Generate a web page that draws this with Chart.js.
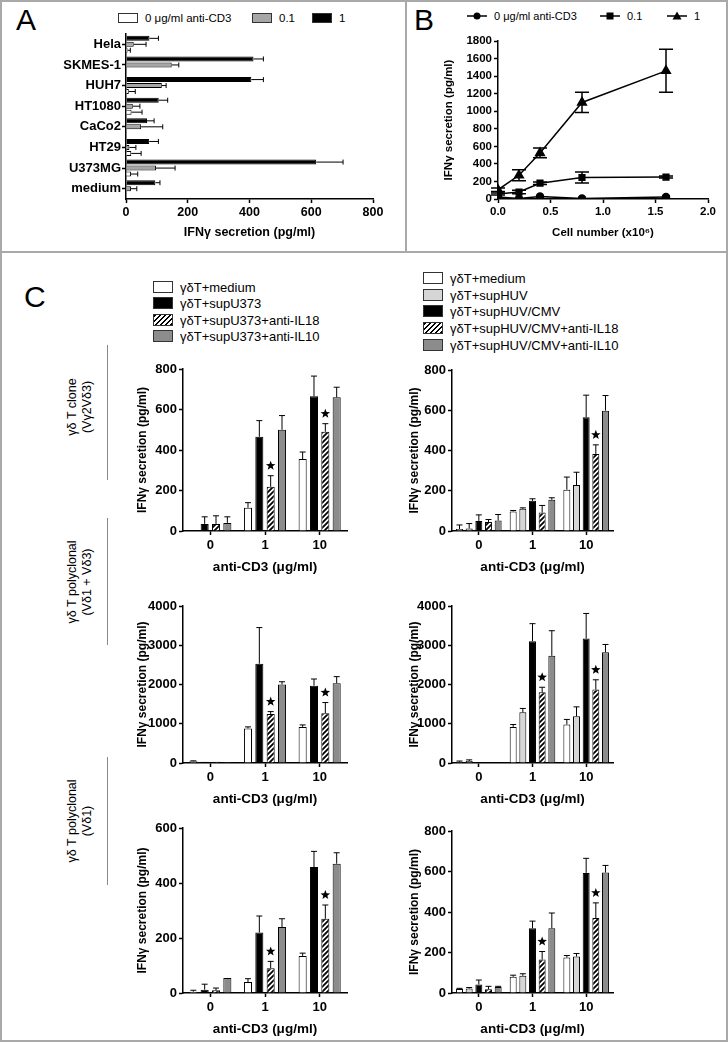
<!DOCTYPE html>
<html>
<head>
<meta charset="utf-8">
<title>IFN-gamma secretion</title>
<script src="https://cdn.jsdelivr.net/npm/chart.js@4.4.1/dist/chart.umd.min.js"></script>
<style>
  body { margin: 0; background: #fff; }
  #fig { position: relative; width: 728px; height: 1042px; overflow: hidden;
         font-family: "Liberation Sans", Arial, sans-serif; color: #000; }
  .frame { position: absolute; left: 0; top: 0; width: 728px; height: 1042px;
           box-sizing: border-box; border: 2px solid #a9a9a9; }
  .hline { position: absolute; left: 0; top: 251px; width: 728px; height: 2px; background: #a9a9a9; }
  .vline { position: absolute; left: 405px; top: 0; width: 2px; height: 252px; background: #a9a9a9; }
  canvas { position: absolute; }
  .letter { position: absolute; font-size: 30px; line-height: 30px; }
  .leg { position: absolute; height: 16px; display: flex; align-items: center; white-space: nowrap; }
  .leg span:last-child { margin-left: 7px; }
  .sw { display: inline-block; box-sizing: border-box; border: 1px solid #333; }
  .c .sw { width: 20px; height: 12px; }
  .c { font-size: 13px; }
  .hatch { background: repeating-linear-gradient(-45deg, #000 0 1.6px, #fff 1.6px 3.6px); }
  .side { position: absolute; width: 170px; height: 30px; font-size: 12.5px; line-height: 15px;
          text-align: center; transform: rotate(-90deg); }
  .rule { position: absolute; left: 107px; width: 1px; background: #888; }
</style>
</head>
<body>
<div id="fig">
  <div class="frame"></div>
  <div class="hline"></div>
  <div class="vline"></div>

  <div class="letter" style="left:16px;top:5px">A</div>
  <div class="letter" style="left:414px;top:5px">B</div>
  <div class="letter" style="left:24px;top:282px">C</div>

  <!-- legend A -->
  <div class="leg" style="left:118px;top:10px;font-size:11.5px"><span class="sw" style="width:20px;height:10px;background:#fff"></span><span>0 μg/ml anti-CD3</span></div>
  <div class="leg" style="left:252px;top:10px;font-size:11.5px"><span class="sw" style="width:20px;height:10px;background:#a6a6a6"></span><span>0.1</span></div>
  <div class="leg" style="left:312px;top:10px;font-size:11.5px"><span class="sw" style="width:20px;height:10px;background:#000"></span><span>1</span></div>

  <!-- legend B -->
  <div class="leg" style="left:467px;top:8px;font-size:11px"><svg width="20" height="10"><line x1="0" y1="5" x2="20" y2="5" stroke="#000" stroke-width="1.5"/><circle cx="10" cy="5" r="3.5" fill="#000"/></svg><span>0 μg/ml anti-CD3</span></div>
  <div class="leg" style="left:600px;top:8px;font-size:11px"><svg width="20" height="10"><line x1="0" y1="5" x2="20" y2="5" stroke="#000" stroke-width="1.5"/><rect x="6.5" y="1.5" width="7" height="7" fill="#000"/></svg><span>0.1</span></div>
  <div class="leg" style="left:667px;top:8px;font-size:11px"><svg width="20" height="10"><line x1="0" y1="5" x2="20" y2="5" stroke="#000" stroke-width="1.5"/><polygon points="10,0.5 14.5,8.5 5.5,8.5" fill="#000"/></svg><span>1</span></div>

  <!-- legend C left -->
  <div class="leg c" style="left:153px;top:279px"><span class="sw" style="background:#fff"></span><span>γδT+medium</span></div>
  <div class="leg c" style="left:153px;top:295px"><span class="sw" style="background:#000"></span><span>γδT+supU373</span></div>
  <div class="leg c" style="left:153px;top:312px"><span class="sw hatch"></span><span>γδT+supU373+anti-IL18</span></div>
  <div class="leg c" style="left:153px;top:328px"><span class="sw" style="background:#8c8c8c"></span><span>γδT+supU373+anti-IL10</span></div>

  <!-- legend C right -->
  <div class="leg c" style="left:423px;top:270px"><span class="sw" style="background:#fff"></span><span>γδT+medium</span></div>
  <div class="leg c" style="left:423px;top:287px"><span class="sw" style="background:#d6d6d6"></span><span>γδT+supHUV</span></div>
  <div class="leg c" style="left:423px;top:303px"><span class="sw" style="background:#000"></span><span>γδT+supHUV/CMV</span></div>
  <div class="leg c" style="left:423px;top:320px"><span class="sw hatch"></span><span>γδT+supHUV/CMV+anti-IL18</span></div>
  <div class="leg c" style="left:423px;top:337px"><span class="sw" style="background:#8c8c8c"></span><span>γδT+supHUV/CMV+anti-IL10</span></div>

  <!-- row labels -->
  <div class="side" style="left:-5px;top:392px">γδ T clone<br>(Vγ2Vδ3)</div>
  <div class="rule" style="top:345px;height:135px"></div>
  <div class="side" style="left:-5px;top:567px">γδ T polyclonal<br>(Vδ1 + Vδ3)</div>
  <div class="rule" style="top:518px;height:127px"></div>
  <div class="side" style="left:-5px;top:806px">γδ T polyclonal<br>(Vδ1)</div>
  <div class="rule" style="top:757px;height:128px"></div>

  <canvas id="chartA" width="405" height="252" style="left:0;top:0"></canvas>
  <canvas id="chartB" width="322" height="252" style="left:406px;top:0"></canvas>
  <canvas id="c11" width="240" height="225" style="left:120px;top:355px"></canvas>
  <canvas id="c12" width="240" height="224" style="left:395px;top:356px"></canvas>
  <canvas id="c21" width="240" height="220" style="left:120px;top:592px"></canvas>
  <canvas id="c22" width="240" height="220" style="left:395px;top:592px"></canvas>
  <canvas id="c31" width="240" height="228" style="left:120px;top:814px"></canvas>
  <canvas id="c32" width="240" height="225" style="left:395px;top:817px"></canvas>
</div>

<script>
// ---- panel A: IFNg vs target cell line, 3 anti-CD3 doses
const cellLines = ['Hela', 'SKMES-1', 'HUH7', 'HT1080', 'CaCo2', 'HT29', 'U373MG', 'medium'];
const aDose1 = [76, 413, 406, 106, 68, 75, 616, 95];
const aDose1Err = [29, 32, 39, 29, 23, 30, 87, 15];
const aDose01 = [25, 148, 116, 22, 49, 11, 97, 16];
const aDose01Err = [40, 23, 14, 23, 70, 21, 62, 19];
const aDose0 = [5, 0, 9, 18, 0, 17, 16, 2];
const aDose0Err = [9, 0, 21, 34, 0, 32, 22, 0];
const aTicks = [0, 200, 400, 600, 800];

// ---- panel B: IFNg vs cell number
const cellNumbers = [0, 0.2, 0.4, 0.8, 1.6];
const bDose0 = [22, 6, 28, 5, 22];
const bDose0Err = [0, 0, 0, 0, 0];
const bDose01 = [57, 80, 180, 245, 250];
const bDose01Err = [12, 20, 15, 62, 12];
const bDose1 = [105, 270, 525, 1100, 1460];
const bDose1Err = [20, 62, 55, 115, 245];

// ---- panel C
const doseLabels = ['0', '1', '10'];

// clone, supU373
const tclU_med = [0, 115, 355],   tclU_medErr = [0, 25, 35];
const tclU_sup = [35, 465, 665],  tclU_supErr = [35, 80, 100];
const tclU_il18 = [35, 218, 490], tclU_il18Err = [40, 55, 40];
const tclU_il10 = [40, 500, 660], tclU_il10Err = [30, 70, 50];
const tclU_star = [0, 1, 1];

// clone, supHUV
const tclH_med = [10, 97, 205],   tclH_medErr = [20, 5, 63];
const tclH_huv = [12, 110, 228],  tclH_huvErr = [25, 5, 64];
const tclH_cmv = [50, 150, 565],  tclH_cmvErr = [30, 10, 110];
const tclH_il18 = [45, 92, 383],  tclH_il18Err = [12, 35, 45];
const tclH_il10 = [52, 155, 598], tclH_il10Err = [30, 10, 75];
const tclH_star = [0, 0, 1];

// polyclonal Vd1+Vd3, supU373
const p13U_med = [45, 880, 920],     p13U_medErr = [10, 40, 50];
const p13U_sup = [35, 2530, 1970],   p13U_supErr = [0, 920, 170];
const p13U_il18 = [30, 1250, 1270],  p13U_il18Err = [0, 60, 270];
const p13U_il10 = [25, 2000, 2030],  p13U_il10Err = [0, 70, 170];
const p13U_star = [0, 1, 1];

// polyclonal Vd1+Vd3, supHUV
const p13H_med = [30, 920, 980],     p13H_medErr = [20, 60, 130];
const p13H_huv = [50, 1290, 1190],   p13H_huvErr = [30, 100, 240];
const p13H_cmv = [10, 3100, 3170],   p13H_cmvErr = [0, 450, 640];
const p13H_il18 = [10, 1800, 1870],  p13H_il18Err = [0, 130, 250];
const p13H_il10 = [10, 2730, 2820],  p13H_il10Err = [0, 640, 200];
const p13H_star = [0, 1, 1];

// polyclonal Vd1, supU373
const p1U_med = [5, 40, 135],    p1U_medErr = [5, 12, 10];
const p1U_sup = [12, 220, 458],  p1U_supErr = [20, 60, 57];
const p1U_il18 = [10, 90, 270],  p1U_il18Err = [8, 25, 50];
const p1U_il10 = [55, 240, 470], p1U_il10Err = [0, 30, 40];
const p1U_star = [0, 1, 1];

// polyclonal Vd1, supHUV
const p1H_med = [20, 80, 175],   p1H_medErr = [3, 8, 10];
const p1H_huv = [22, 85, 180],   p1H_huvErr = [5, 10, 15];
const p1H_cmv = [42, 320, 593],  p1H_cmvErr = [22, 35, 72];
const p1H_il18 = [18, 165, 370], p1H_il18Err = [15, 40, 75];
const p1H_il10 = [30, 320, 595], p1H_il10Err = [3, 75, 35];
const p1H_star = [0, 1, 1];

const FONT = "'Liberation Sans', Arial, sans-serif";
Chart.defaults.font.family = FONT;
Chart.defaults.color = '#000';
Chart.defaults.animation = false;
Chart.defaults.responsive = false;
Chart.defaults.plugins.legend.display = false;
Chart.defaults.plugins.tooltip.enabled = false;

const plain = v => String(v);

// diagonal stripes for the anti-IL18 bars
const hatch = (function () {
  const c = document.createElement('canvas');
  c.width = 5; c.height = 5;
  const g = c.getContext('2d');
  g.fillStyle = '#fff';
  g.fillRect(0, 0, 5, 5);
  g.strokeStyle = '#000';
  g.lineWidth = 1.8;
  g.beginPath();
  g.moveTo(-1, 6); g.lineTo(6, -1);
  g.moveTo(-1, 1); g.lineTo(1, -1);
  g.moveTo(4, 6); g.lineTo(6, 4);
  g.stroke();
  return g.createPattern(c, 'repeat');
})();

function drawStar(ctx, cx, cy, r) {
  ctx.beginPath();
  for (let k = 0; k < 10; k++) {
    const rad = k % 2 ? r * 0.42 : r;
    const a = -Math.PI / 2 + k * Math.PI / 5;
    ctx.lineTo(cx + rad * Math.cos(a), cy + rad * Math.sin(a));
  }
  ctx.closePath();
  ctx.fill();
}

// error bars (+ significance stars) drawn from the data through the scales
const errorBars = {
  id: 'errorBars',
  afterDatasetsDraw(chart, args, opts) {
    const errs = opts.errors;
    if (!errs) return;
    const ctx = chart.ctx;
    const horiz = chart.options.indexAxis === 'y';
    const vs = horiz ? chart.scales.x : chart.scales.y;
    ctx.save();
    ctx.strokeStyle = '#000';
    ctx.fillStyle = '#000';
    ctx.lineWidth = opts.lineWidth || 1;
    chart.data.datasets.forEach((ds, di) => {
      const e = errs[di];
      if (!e) return;
      const meta = chart.getDatasetMeta(di);
      meta.data.forEach((el, i) => {
        const raw = ds.data[i];
        const v = typeof raw === 'object' ? raw.y : raw;
        const cap = opts.cap || 3;
        if (e[i]) {
          ctx.beginPath();
          if (horiz) {
            const end = vs.getPixelForValue(v + e[i]);
            ctx.moveTo(el.x, el.y); ctx.lineTo(end, el.y);
            ctx.moveTo(end, el.y - cap); ctx.lineTo(end, el.y + cap);
          } else if (opts.both) {
            const hi = vs.getPixelForValue(v + e[i]);
            const lo = vs.getPixelForValue(Math.max(0, v - e[i]));
            ctx.moveTo(el.x, hi); ctx.lineTo(el.x, lo);
            ctx.moveTo(el.x - cap, hi); ctx.lineTo(el.x + cap, hi);
            ctx.moveTo(el.x - cap, lo); ctx.lineTo(el.x + cap, lo);
          } else {
            const hi = vs.getPixelForValue(v + e[i]);
            ctx.moveTo(el.x, el.y); ctx.lineTo(el.x, hi);
            ctx.moveTo(el.x - cap, hi); ctx.lineTo(el.x + cap, hi);
          }
          ctx.stroke();
        }
        if (opts.stars && di === opts.starSet && opts.stars[i]) {
          const top = vs.getPixelForValue(v + (e[i] || 0));
          drawStar(ctx, el.x, top - 10, 5);
        }
      });
    });
    ctx.restore();
  }
};
Chart.register(errorBars);

function axisBase() {
  return {
    border: { display: true, color: '#000', width: 1.5 },
    grid: { display: true, drawOnChartArea: false, drawTicks: true, tickLength: 4,
            tickWidth: 1.5, color: '#000', offset: false }
  };
}

// ---- panel A
new Chart(document.getElementById('chartA'), {
  type: 'bar',
  data: {
    labels: cellLines,
    datasets: [
      { label: '1', data: aDose1, backgroundColor: '#000' },
      { label: '0.1', data: aDose01, backgroundColor: '#a6a6a6' },
      { label: '0 μg/ml anti-CD3', data: aDose0, backgroundColor: '#fff' }
    ].map(d => Object.assign(d, { borderColor: '#000', borderWidth: 1,
      categoryPercentage: 0.87, barPercentage: 0.83 }))
  },
  options: {
    indexAxis: 'y',
    layout: { padding: { top: 34, right: 32, left: 0, bottom: 0 } },
    plugins: { errorBars: { errors: [aDose1Err, aDose01Err, aDose0Err], cap: 2.5 } },
    scales: {
      y: Object.assign(axisBase(), {
        ticks: { font: { weight: 'bold', size: 13 }, padding: 1 },
        afterFit: s => { s.width = 126; }
      }),
      x: Object.assign(axisBase(), {
        min: 0, max: 800,
        afterBuildTicks: s => { s.ticks = aTicks.map(v => ({ value: v })); },
        ticks: { font: { weight: 'bold', size: 12.5 }, padding: 2, callback: plain },
        title: { display: true, text: 'IFNγ secretion (pg/ml)', font: { weight: 'bold', size: 12.5 },
                 padding: { top: 0, bottom: 12 } },
        afterFit: s => { s.height = 53; }
      })
    }
  }
});

// ---- panel B
const bLines = [
  { label: '0 μg/ml anti-CD3', vals: bDose0, style: 'circle', r: 3.5 },
  { label: '0.1', vals: bDose01, style: 'rect', r: 4 },
  { label: '1', vals: bDose1, style: 'triangle', r: 5 }
];
new Chart(document.getElementById('chartB'), {
  type: 'line',
  data: {
    datasets: bLines.map(s => ({
      label: s.label,
      data: cellNumbers.map((x, i) => ({ x: x, y: s.vals[i] })),
      borderColor: '#000', backgroundColor: '#000', borderWidth: 1.5,
      pointStyle: s.style, pointRadius: s.r, pointBackgroundColor: '#000',
      pointBorderColor: '#000', tension: 0
    }))
  },
  options: {
    layout: { padding: { top: 41, right: 20, left: 0, bottom: 0 } },
    plugins: { errorBars: { errors: [bDose0Err, bDose01Err, bDose1Err], both: true, cap: 7, lineWidth: 1.5 } },
    scales: {
      x: Object.assign(axisBase(), {
        type: 'linear', min: 0, max: 2,
        ticks: { stepSize: 0.5, font: { weight: 'bold', size: 11.5 }, padding: 2,
                 callback: v => v.toFixed(1) },
        title: { display: true, text: 'Cell number (x10⁶)', font: { weight: 'bold', size: 11.5 },
                 padding: { top: 0, bottom: 12 } },
        afterFit: s => { s.height = 53; }
      }),
      y: Object.assign(axisBase(), {
        min: 0, max: 1800,
        ticks: { stepSize: 200, font: { weight: 'bold', size: 11.5 }, padding: 2, callback: plain },
        title: { display: true, text: 'IFNγ secretion (pg/ml)', font: { weight: 'bold', size: 11.5 },
                 padding: { top: 36, bottom: 0 } },
        afterFit: s => { s.width = 92; }
      })
    }
  }
});

// ---- panel C
const leftFills = ['#fff', '#000', hatch, '#8c8c8c'];
const rightFills = ['#fff', '#d6d6d6', '#000', hatch, '#8c8c8c'];

function groupChart(id, series, errors, stars, yMax, yStep, right, pt, xh) {
  const fills = right ? rightFills : leftFills;
  new Chart(document.getElementById(id), {
    type: 'bar',
    data: {
      labels: doseLabels,
      datasets: series.map((d, i) => ({
        data: d, backgroundColor: fills[i], borderColor: '#000', borderWidth: 1,
        categoryPercentage: right ? 0.9 : 0.83, barPercentage: right ? 0.72 : 0.71
      }))
    },
    options: {
      layout: { padding: { top: pt, right: right ? 22 : 13, left: 0, bottom: 0 } },
      plugins: { errorBars: { errors: errors, stars: stars, starSet: right ? 3 : 2, cap: 3 } },
      scales: {
        x: Object.assign(axisBase(), {
          ticks: { font: { weight: 'bold', size: 13 }, padding: 3 },
          title: { display: true, text: 'anti-CD3 (μg/ml)', font: { weight: 'bold', size: 13.5 },
                   padding: { top: 0, bottom: 5 } },
          afterFit: s => { s.height = xh; }
        }),
        y: Object.assign(axisBase(), {
          min: 0, max: yMax,
          ticks: { stepSize: yStep, font: { weight: 'bold', size: 13 }, padding: 2, callback: plain },
          title: { display: true, text: 'IFNγ secretion (pg/ml)', font: { weight: 'bold', size: 12 },
                   padding: { top: right ? 12.5 : 15.5, bottom: 0 } },
          afterFit: s => { s.width = right ? 57 : 63; }
        })
      }
    }
  });
}

groupChart('c11', [tclU_med, tclU_sup, tclU_il18, tclU_il10],
  [tclU_medErr, tclU_supErr, tclU_il18Err, tclU_il10Err], tclU_star, 800, 200, false, 14, 49);
groupChart('c12', [tclH_med, tclH_huv, tclH_cmv, tclH_il18, tclH_il10],
  [tclH_medErr, tclH_huvErr, tclH_cmvErr, tclH_il18Err, tclH_il10Err], tclH_star, 800, 200, true, 14, 49);
groupChart('c21', [p13U_med, p13U_sup, p13U_il18, p13U_il10],
  [p13U_medErr, p13U_supErr, p13U_il18Err, p13U_il10Err], p13U_star, 4000, 1000, false, 14, 49);
groupChart('c22', [p13H_med, p13H_huv, p13H_cmv, p13H_il18, p13H_il10],
  [p13H_medErr, p13H_huvErr, p13H_cmvErr, p13H_il18Err, p13H_il10Err], p13H_star, 4000, 1000, true, 14, 49);
groupChart('c31', [p1U_med, p1U_sup, p1U_il18, p1U_il10],
  [p1U_medErr, p1U_supErr, p1U_il18Err, p1U_il10Err], p1U_star, 600, 200, false, 14, 49);
groupChart('c32', [p1H_med, p1H_huv, p1H_cmv, p1H_il18, p1H_il10],
  [p1H_medErr, p1H_huvErr, p1H_cmvErr, p1H_il18Err, p1H_il10Err], p1H_star, 800, 200, true, 14, 49);
</script>
</body>
</html>
